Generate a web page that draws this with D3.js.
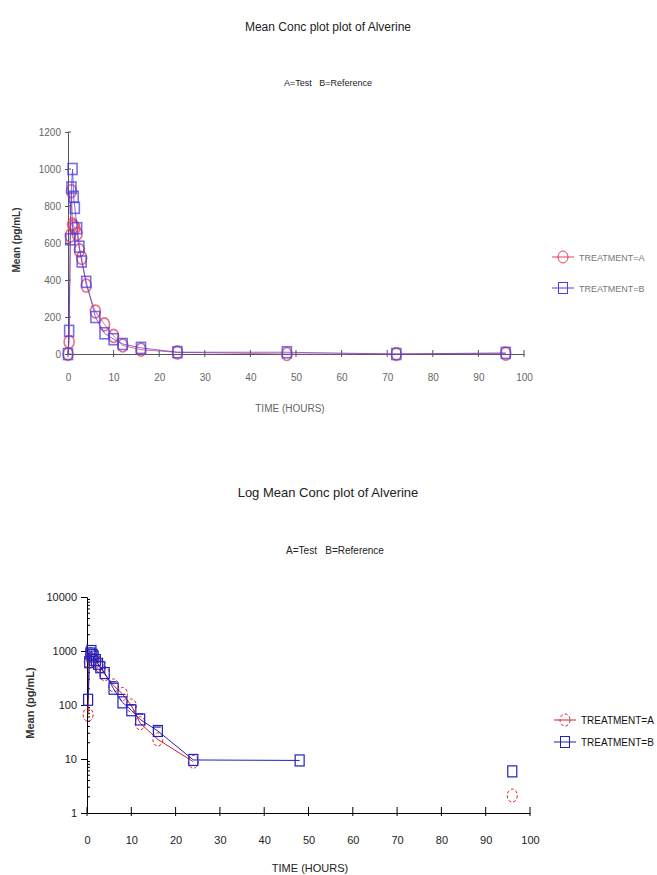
<!DOCTYPE html>
<html>
<head>
<meta charset="utf-8">
<script src="https://cdn.jsdelivr.net/npm/d3@7"></script>
<style>
  body { margin: 0; background: #fff; }
  svg { display: block; font-family: "Liberation Sans", Arial, sans-serif; }
</style>
</head>
<body>
<div id="chart"></div>
<script>
// sampling times (hours) and mean concentrations (pg/mL)
const times = [0, 0.25, 0.5, 0.75, 1, 1.25, 1.5, 2, 2.5, 3, 4, 6, 8, 10, 12, 16, 24, 48, 72, 96];
const meanA = [0, 66, 640, 880, 700, 690, 680, 650, 560, 520, 370, 230, 160, 98, 46, 23, 8.9, 0, 0, 2.1];
const meanB = [0, 125, 620, 900, 1000, 850, 790, 680, 580, 500, 390, 200, 112, 80, 54, 33, 9.6, 9.4, 0, 5.9];
const seB   = [0, 0, 0, 0, 0, 0, 0, 0, 0, 0, 0, 70, 45, 20, 14, 6, 0, 0, 0, 0];

const timeTicks = [0, 10, 20, 30, 40, 50, 60, 70, 80, 90, 100];
const linTicks = [0, 200, 400, 600, 800, 1000, 1200];
const logTicks = [1, 10, 100, 1000, 10000];
const treatments = ['TREATMENT=A', 'TREATMENT=B'];

class ConcChart {
    constructor(svg, opts) {
        this.svg = svg;
        this.o = opts;
        this.g = svg.append('g');
    }

    init() {
        this.setupScales();
        this.drawTitles();
        this.drawAxes();
        this.drawSeries();
        this.drawLegend();
    }

    setupScales() {
        const o = this.o;
        this.x = d3.scaleLinear().domain([0, 100]).range([o.left, o.right]);
        this.y = o.log
            ? d3.scaleLog().domain([1, 10000]).range([o.bottom, o.top])
            : d3.scaleLinear().domain([0, 1200]).range([o.bottom, o.top]);
    }

    drawTitles() {
        const o = this.o;
        this.g.append('text')
            .attr('x', 328).attr('y', o.titleY)
            .attr('text-anchor', 'middle')
            .attr('font-size', o.titleSize)
            .attr('fill', '#222')
            .text(o.title);
        this.g.append('text')
            .attr('x', o.subX).attr('y', o.subY)
            .attr('text-anchor', 'middle')
            .attr('font-size', o.subSize)
            .attr('fill', '#222')
            .attr('xml:space', 'preserve')
            .text('A=Test   B=Reference');
    }

    drawAxes() {
        const o = this.o;
        const col = o.axisColor;

        const xAxis = this.g.append('g')
            .attr('transform', `translate(0,${o.bottom})`)
            .call(d3.axisBottom(this.x).tickValues(timeTicks).tickSize(0).tickPadding(o.xPad));
        xAxis.select('.domain').attr('stroke', col);
        xAxis.selectAll('text').attr('font-size', o.tickSize).attr('fill', o.tickColor);
        // ticks cross the axis line
        this.g.selectAll('.xtick')
            .data(timeTicks)
            .enter()
            .append('line')
            .attr('x1', d => this.x(d)).attr('x2', d => this.x(d))
            .attr('y1', o.bottom - (o.log ? 6 : 4)).attr('y2', o.bottom + 3)
            .attr('stroke', col);

        const ticks = o.log ? logTicks : linTicks;
        const yAxis = this.g.append('g')
            .attr('transform', `translate(${o.left},0)`)
            .call(d3.axisLeft(this.y).tickValues(ticks).tickFormat(d3.format('d')).tickSize(o.log ? 6 : 3).tickPadding(4));
        yAxis.select('.domain').attr('stroke', col);
        yAxis.selectAll('line').attr('stroke', col);
        yAxis.selectAll('text').attr('font-size', o.tickSize).attr('fill', o.tickColor);
        if (!o.log) {
            this.g.selectAll('.ytick-in')
                .data(linTicks)
                .enter()
                .append('line')
                .attr('x1', o.left).attr('x2', o.left + 3)
                .attr('y1', d => this.y(d)).attr('y2', d => this.y(d))
                .attr('stroke', col);
        } else {
            const minor = [];
            [1, 10, 100, 1000].forEach(dec => {
                for (let k = 2; k <= 9; k++) minor.push(dec * k);
            });
            this.g.selectAll('.ytick-minor')
                .data(minor)
                .enter()
                .append('line')
                .attr('x1', o.left).attr('x2', o.left + 3)
                .attr('y1', d => this.y(d)).attr('y2', d => this.y(d))
                .attr('stroke', col);
        }

        this.g.append('text')
            .attr('x', o.xLabelX).attr('y', o.xLabelY)
            .attr('text-anchor', 'middle')
            .attr('font-size', o.labelSize)
            .attr('fill', o.tickColor)
            .text('TIME (HOURS)');

        this.g.append('text')
            .attr('transform', `translate(${o.yLabelX},${o.yLabelY}) rotate(-90)`)
            .attr('text-anchor', 'middle')
            .attr('font-size', o.labelSize)
            .attr('font-weight', 'bold')
            .attr('fill', '#333')
            .text('Mean (pg/mL)');
    }

    drawSeries() {
        const o = this.o;
        const ok = v => o.log ? v > 0 : true;
        const series = [
            { key: 'A', vals: meanA, color: o.colorA },
            { key: 'B', vals: meanB, color: o.colorB }
        ];

        series.forEach(s => {
            const pts = times.map((t, i) => ({ t, v: s.vals[i], se: s.key === 'B' ? seB[i] : 0 }));
            const line = d3.line()
                .defined(d => ok(d.v))
                .x(d => this.x(d.t))
                .y(d => this.y(d.v));
            this.g.append('path')
                .datum(pts)
                .attr('fill', 'none')
                .attr('stroke', s.color)
                .attr('stroke-width', 1)
                .attr('opacity', o.markOpacity)
                .attr('d', line);

            const shown = pts.filter(d => ok(d.v));
            if (s.key === 'A') {
                this.g.selectAll(`.mk${s.key}${o.log}`)
                    .data(shown)
                    .enter()
                    .append('ellipse')
                    .attr('cx', d => this.x(d.t))
                    .attr('cy', d => this.y(d.v))
                    .attr('rx', 5).attr('ry', 6.5)
                    .attr('fill', 'none')
                    .attr('stroke', s.color)
                    .attr('stroke-width', o.log ? 1 : 1.6)
                    .attr('stroke-dasharray', o.log ? '3,2' : null)
                    .attr('opacity', o.markOpacity);
            } else {
                this.g.selectAll(`.mk${s.key}${o.log}`)
                    .data(shown)
                    .enter()
                    .append('rect')
                    .attr('x', d => this.x(d.t) - 4.5)
                    .attr('y', d => this.y(d.v) - 5.5)
                    .attr('width', 9).attr('height', 11)
                    .attr('fill', 'none')
                    .attr('stroke', s.color)
                    .attr('stroke-width', o.log ? 1.2 : 1.6)
                    .attr('opacity', o.markOpacity);

                if (o.log) {
                    // upper caps of the reference error bars
                    const caps = shown.filter(d => d.se > 0).map(d => ({ t: d.t, v: d.v + d.se }));
                    this.g.selectAll('.cap')
                        .data(caps)
                        .enter()
                        .append('line')
                        .attr('x1', d => this.x(d.t) - 5).attr('x2', d => this.x(d.t) + 3)
                        .attr('y1', d => this.y(d.v)).attr('y2', d => this.y(d.v))
                        .attr('stroke', s.color)
                        .attr('stroke-width', 1.2);
                }
            }
        });
    }

    drawLegend() {
        const o = this.o;
        const colors = [o.colorA, o.colorB];
        const items = this.g.selectAll('.legend-item')
            .data(treatments)
            .enter()
            .append('g')
            .attr('transform', (d, i) => `translate(${o.legX},${o.legY[i]})`);

        items.append('line')
            .attr('x1', -11).attr('x2', 11)
            .attr('stroke', (d, i) => colors[i])
            .attr('stroke-width', 1);

        items.each(function(d, i) {
            const it = d3.select(this);
            if (i === 0) {
                it.append('ellipse')
                    .attr('rx', 5).attr('ry', 6)
                    .attr('fill', 'none')
                    .attr('stroke', colors[i])
                    .attr('stroke-dasharray', o.log ? '3,2' : null);
            } else {
                it.append('rect')
                    .attr('x', -4.5).attr('y', -5.5)
                    .attr('width', 9).attr('height', 11)
                    .attr('fill', 'none')
                    .attr('stroke', colors[i]);
            }
        });

        items.append('text')
            .attr('x', 16).attr('y', 3.5)
            .attr('font-size', o.legSize)
            .attr('fill', o.legColor)
            .text(d => d);
    }
}

const svg = d3.select('#chart').append('svg')
    .attr('width', 657)
    .attr('height', 875);

new ConcChart(svg, {
    log: false,
    title: 'Mean Conc plot plot of Alverine', titleY: 31, titleSize: '12px',
    subX: 328, subY: 86, subSize: '9px',
    left: 68, right: 524, top: 132, bottom: 354, xPad: 20,
    axisColor: '#555', tickColor: '#666', tickSize: '10px', labelSize: '10px',
    xLabelX: 290, xLabelY: 412, yLabelX: 20, yLabelY: 240,
    colorA: '#e0405a', colorB: '#4a3ee0', markOpacity: 0.75,
    legX: 563, legY: [257, 288], legSize: '9px', legColor: '#777'
}).init();

new ConcChart(svg, {
    log: true,
    title: 'Log Mean Conc plot of Alverine', titleY: 497, titleSize: '13px',
    subX: 335, subY: 554, subSize: '10px',
    left: 87, right: 530, top: 597, bottom: 813, xPad: 23,
    axisColor: '#000', tickColor: '#222', tickSize: '11px', labelSize: '11px',
    xLabelX: 310, xLabelY: 872, yLabelX: 34, yLabelY: 703,
    colorA: '#d42020', colorB: '#2020c0', markOpacity: 1,
    legX: 565, legY: [720, 742], legSize: '10px', legColor: '#111'
}).init();
</script>
</body>
</html>
